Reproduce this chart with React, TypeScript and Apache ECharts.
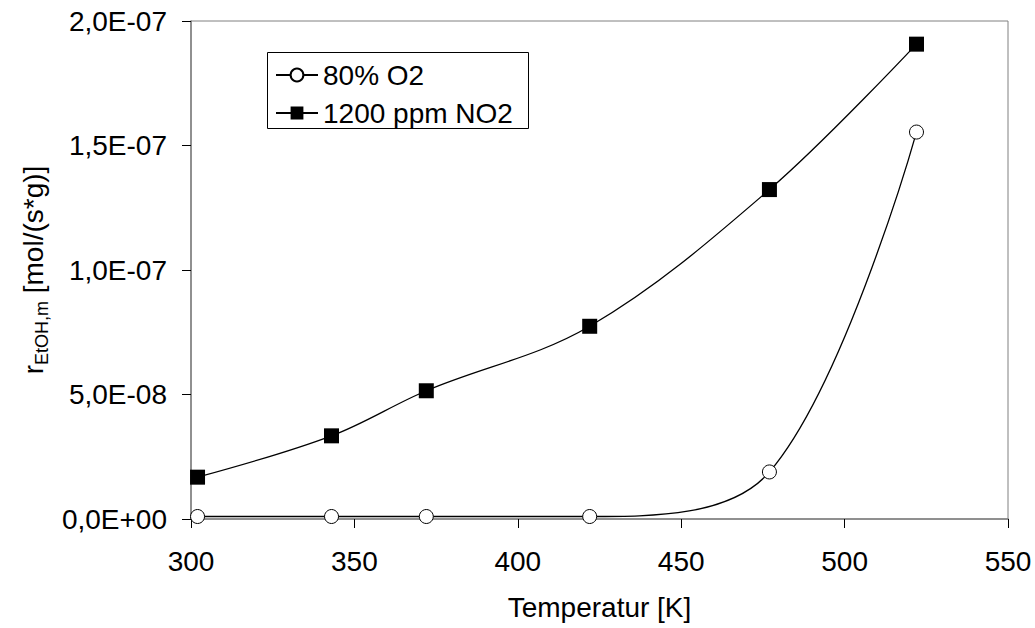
import React, { useEffect, useRef } from "react";
import * as echarts from "echarts";

const temperatures = [302, 343, 372, 422, 477, 522];
const seriesO2 = [1e-9, 1e-9, 1e-9, 1e-9, 1.89e-8, 1.554e-7];
const seriesNO2 = [1.68e-8, 3.34e-8, 5.15e-8, 7.74e-8, 1.323e-7, 1.907e-7];
const seriesNames = ["80% O2", "1200 ppm NO2"];
const xTicks = { min: 300, max: 550, interval: 50 };
const yTicks = { min: 0, max: 2e-7, interval: 5e-8 };

const FONT = "'Liberation Sans', Arial, sans-serif";
const FS = 28;

function sci(v: number): string {
  if (Math.abs(v) < 1e-20) return "0,0E+00";
  const s = v.toExponential(1);
  const [m, e] = s.split("e");
  const ei = parseInt(e, 10);
  const sign = ei < 0 ? "-" : "+";
  const ea = String(Math.abs(ei)).padStart(2, "0");
  return m.replace(".", ",") + "E" + sign + ea;
}

export default function App() {
  const ref = useRef<HTMLDivElement>(null);
  useEffect(() => {
    if (!ref.current) return;
    const chart = echarts.init(ref.current, null, { renderer: "svg" });
    const toPairs = (ys: number[]) => temperatures.map((t, i) => [t, ys[i]]);
    chart.setOption({
      animation: false,
      backgroundColor: "#ffffff",
      textStyle: { fontFamily: FONT },
      grid: {
        left: 191,
        right: 27,
        top: 21,
        bottom: 109,
        show: true,
        borderColor: "#808080",
        borderWidth: 1,
        containLabel: false,
      },
      legend: {
        orient: "vertical",
        left: 275,
        top: 61,
        padding: 0,
        itemGap: 10,
        itemWidth: 42,
        itemHeight: 16,
        data: seriesNames,
        textStyle: { fontFamily: FONT, fontSize: FS, color: "#000" },
      },
      graphic: [
        {
          type: "rect",
          z: 100,
          shape: { x: 267.5, y: 52.5, width: 261, height: 76 },
          style: { fill: null, stroke: "#000", lineWidth: 1 },
        },
      ],
      xAxis: {
        type: "value",
        min: xTicks.min,
        max: xTicks.max,
        interval: xTicks.interval,
        name: "Temperatur [K]",
        nameLocation: "middle",
        nameGap: 74,
        nameTextStyle: { fontFamily: FONT, fontSize: FS, color: "#000" },
        axisLine: { show: true, lineStyle: { color: "#808080", width: 1.5 } },
        axisTick: { show: true, length: 9, lineStyle: { color: "#000", width: 1 } },
        axisLabel: { fontFamily: FONT, fontSize: FS, color: "#000", margin: 28 },
        splitLine: { show: false },
      },
      yAxis: {
        type: "value",
        min: yTicks.min,
        max: yTicks.max,
        interval: yTicks.interval,
        name: "{r|r}{sub|EtOH,m}{r| [mol/(s*g)]}",
        nameLocation: "middle",
        nameGap: 140,
        nameTextStyle: {
          fontFamily: FONT,
          fontSize: FS,
          color: "#000",
          rich: {
            r: { fontFamily: FONT, fontSize: FS, color: "#000", lineHeight: 36, verticalAlign: "middle" },
            sub: { fontFamily: FONT, fontSize: 18, color: "#000", lineHeight: 18, verticalAlign: "bottom" },
          },
        },
        axisLine: { show: true, lineStyle: { color: "#808080", width: 1.5 } },
        axisTick: { show: true, length: 9, lineStyle: { color: "#000", width: 1 } },
        axisLabel: { fontFamily: FONT, fontSize: FS, color: "#000", margin: 24, formatter: sci },
        splitLine: { show: false },
      },
      series: [
        {
          name: seriesNames[0],
          type: "line",
          data: toPairs(seriesO2),
          smooth: 0.35,
          symbol: "circle",
          symbolSize: 14,
          lineStyle: { color: "#000", width: 1.3 },
          itemStyle: { color: "#fff", borderColor: "#000", borderWidth: 1 },
          z: 3,
        },
        {
          name: seriesNames[1],
          type: "line",
          data: toPairs(seriesNO2),
          smooth: 0.35,
          symbol: "rect",
          symbolSize: 15,
          lineStyle: { color: "#000", width: 1.3 },
          itemStyle: { color: "#000", borderColor: "#000", borderWidth: 0 },
          z: 4,
        },
      ],
    });
    return () => chart.dispose();
  }, []);
  return (
    <div
      ref={ref}
      style={{ position: "fixed", left: 0, top: 0, width: 1035, height: 628, background: "#fff" }}
    />
  );
}
